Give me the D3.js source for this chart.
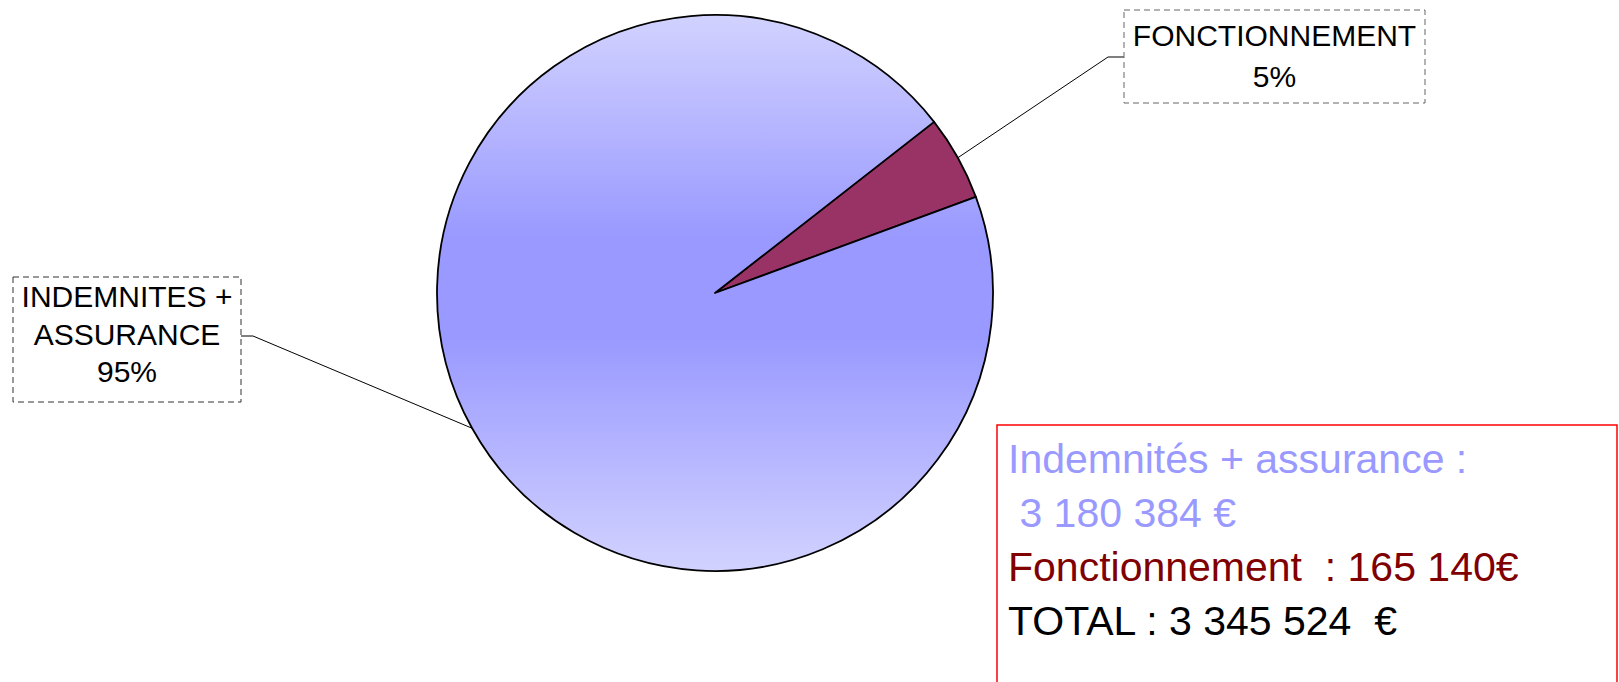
<!DOCTYPE html>
<html>
<head>
<meta charset="utf-8">
<script src="https://cdn.jsdelivr.net/npm/d3@7"></script>
<style>
  body { margin: 0; background: #fff; }
  svg { display: block; font-family: "Liberation Sans", Arial, sans-serif; }
</style>
</head>
<body>
<script>
var width = 1619,
    height = 682;

// donnees du graphique
var categories = ["FONCTIONNEMENT", "INDEMNITES + ASSURANCE"];
var values = [165140, 3180384];
var percentLabels = ["5%", "95%"];
var labelLines = [["FONCTIONNEMENT", "5%"], ["INDEMNITES +", "ASSURANCE", "95%"]];
var infoLines = ["Indemnités + assurance :", " 3 180 384 €", "Fonctionnement  : 165 140€", "TOTAL : 3 345 524  €"];
var infoColors = ["#9999ff", "#9999ff", "#800000", "#000000"];

var cx = 715, cy = 293, r = 278;

var svg = d3.select("body").append("svg")
    .attr("width", width)
    .attr("height", height);

// degrade vertical pour la grande part (coordonnees du groupe centre)
var grad = svg.append("defs").append("linearGradient")
    .attr("id", "bleu")
    .attr("gradientUnits", "userSpaceOnUse")
    .attr("x1", 0).attr("x2", 0)
    .attr("y1", -r).attr("y2", r);
grad.append("stop").attr("offset", 0).attr("stop-color", "#d2d2ff");
grad.append("stop").attr("offset", 0.4).attr("stop-color", "#9999ff");
grad.append("stop").attr("offset", 0.58).attr("stop-color", "#9999ff");
grad.append("stop").attr("offset", 1).attr("stop-color", "#d2d2ff");

var fills = ["#993366", "url(#bleu)"];

var start = 52 * Math.PI / 180;
var pie = d3.pie().sort(null)
    .startAngle(start)
    .endAngle(start + 2 * Math.PI);

var arcs = pie(values);
var arc = d3.arc().innerRadius(0).outerRadius(r);

var g = svg.append("g").attr("transform", "translate(" + cx + "," + cy + ")");

g.selectAll("path.slice")
    .data(arcs)
  .enter().append("path")
    .attr("class", "slice")
    .attr("d", arc)
    .style("fill", function(d, i) { return fills[i]; })
    .style("stroke", "#000")
    .style("stroke-width", 1.8)
    .style("stroke-linejoin", "round");

// etiquettes avec cadres pointilles
var boxes = [
  { x: 1124, y: 10, w: 301, h: 93, elbowX: 1108, elbowY: 57, lineY: 46, dy: 41 },
  { x: 13, y: 277, w: 228, h: 125, elbowX: 253, elbowY: 336, lineY: 307, dy: 37.5 }
];

arcs.forEach(function(d, i) {
  var b = boxes[i];
  var a = (d.startAngle + d.endAngle) / 2;
  var px = cx + r * Math.sin(a),
      py = cy - r * Math.cos(a);
  var edgeX = i === 0 ? b.x : b.x + b.w;

  svg.append("polyline")
      .attr("points", [[px, py], [b.elbowX, b.elbowY], [edgeX, b.elbowY]].join(" "))
      .style("fill", "none")
      .style("stroke", "#000")
      .style("stroke-width", 1);

  svg.append("rect")
      .attr("x", b.x).attr("y", b.y)
      .attr("width", b.w).attr("height", b.h)
      .style("fill", "#fff")
      .style("stroke", i === 0 ? "#666" : "#333")
      .style("stroke-width", 1)
      .style("stroke-dasharray", "6,4");

  svg.append("g").selectAll("text")
      .data(labelLines[i])
    .enter().append("text")
      .attr("x", b.x + b.w / 2)
      .attr("y", function(t, j) { return b.lineY + j * b.dy; })
      .attr("text-anchor", "middle")
      .style("font-size", "30px")
      .style("fill", "#000")
      .text(function(t) { return t; });
});

// encadre rouge des montants
svg.append("rect")
    .attr("x", 997).attr("y", 425)
    .attr("width", 620).attr("height", 300)
    .style("fill", "#fff")
    .style("stroke", "#ff0000")
    .style("stroke-width", 1.5);

svg.append("g").selectAll("text")
    .data(infoLines)
  .enter().append("text")
    .attr("x", 1008)
    .attr("y", function(t, i) { return 473 + i * 54; })
    .attr("xml:space", "preserve")
    .style("white-space", "pre")
    .style("font-size", "41px")
    .style("fill", function(t, i) { return infoColors[i]; })
    .text(function(t) { return t; });
</script>
</body>
</html>
